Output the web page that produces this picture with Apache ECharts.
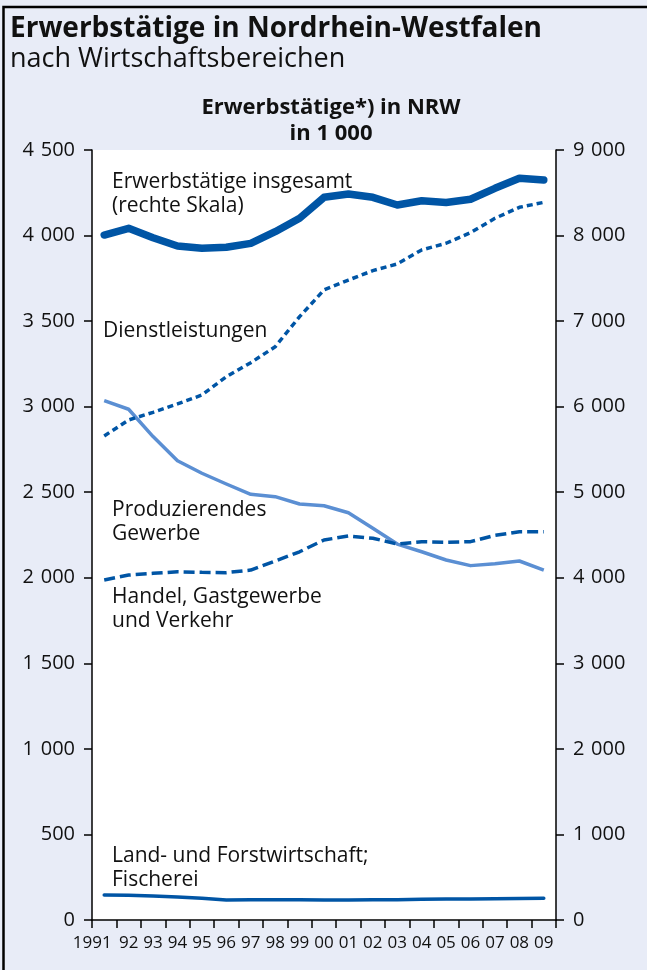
<!DOCTYPE html>
<html><head><meta charset="utf-8">
<script src="https://cdn.jsdelivr.net/npm/echarts@6/dist/echarts.min.js"></script>
<style>html,body{margin:0;padding:0;background:#E8ECF7;}#c{width:647px;height:970px;}</style>
</head><body><div id="c"></div>
<script>
const years = ['1991','92','93','94','95','96','97','98','99','00','01','02','03','04','05','06','07','08','09'];
const insgesamt = [8006,8085,7975,7878,7851,7863,7909,8045,8202,8447,8485,8447,8357,8406,8387,8424,8552,8669,8649];
const dienstleistungen = [2829,2922,2967,3016,3068,3175,3257,3350,3526,3682,3740,3795,3834,3916,3955,4017,4101,4165,4194];
const produzierendes = [3035,2985,2825,2684,2611,2548,2488,2474,2431,2421,2380,2289,2197,2152,2104,2071,2082,2098,2045];
const handel = [1987,2016,2026,2035,2032,2030,2045,2098,2152,2221,2244,2231,2197,2211,2208,2211,2248,2269,2269];
const land = [146,144,140,134,127,117,119,119,118,117,117,118,118,121,122,122,124,126,127];

const FONT = '"Open Sans", "Noto Sans", sans-serif';
const DARK = '#0055A5';
const LIGHT = '#5B8FD3';
const fmt = v => String(v).replace(/\B(?=(\d{3})+(?!\d))/g, '\u2004');

const chart = echarts.init(document.getElementById('c'));
const txt = (x, y, t, size, weight, lh) => ({
  type: 'text', left: x, top: y,
  style: { text: t, font: (weight||'normal') + ' ' + size + 'px ' + FONT, fill: '#111', lineHeight: lh || Math.round(size*1.15) }
});
chart.setOption({
  backgroundColor: '#E8ECF7',
  animation: false,
  grid: { left: 92, right: 91, top: 150, bottom: 50, show: true, backgroundColor: '#fff', borderWidth: 0 },
  graphic: [
    { type: 'polyline', shape: { points: [[3.5, 975], [3.5, 7], [650, 7]] }, style: { fill: null, stroke: '#000', lineWidth: 2.5 }, silent: true },
    txt(10, 12, 'Erwerbstätige in Nordrhein-Westfalen', 28, 'bold', 34),
    txt(10, 43, 'nach Wirtschaftsbereichen', 27, 'normal', 32),
    { type: 'text', x: 331, top: 95, style: { text: 'Erwerbstätige*) in NRW\nin 1 000', font: 'bold 22px ' + FONT, fill: '#111', align: 'center', textAlign: 'center', lineHeight: 26 } },
    txt(112, 170, 'Erwerbstätige insgesamt\n(rechte Skala)', 21, 'normal', 24),
    txt(103, 319, 'Dienstleistungen', 21, 'normal', 24),
    txt(112, 498, 'Produzierendes\nGewerbe', 21, 'normal', 24),
    txt(112, 585, 'Handel, Gastgewerbe\nund Verkehr', 21, 'normal', 24),
    txt(112, 844, 'Land- und Forstwirtschaft;\nFischerei', 21, 'normal', 24)
  ],
  xAxis: {
    type: 'category', data: years, boundaryGap: true,
    axisLine: { lineStyle: { color: '#000', width: 1.5 } },
    axisTick: { show: true, length: 8, lineStyle: { color: '#000', width: 1.5 } },
    axisLabel: { color: '#111', fontSize: 17, fontFamily: FONT, margin: 15, interval: 0,
      formatter: (v, i) => i === 0 ? '{first|' + v + '}' : v,
      rich: { first: { fontSize: 17, fontFamily: FONT, color: '#111', padding: [0, 24, 0, 0] } } }
  },
  yAxis: [
    { type: 'value', min: 0, max: 4500, interval: 500, position: 'left',
      axisLine: { show: true, lineStyle: { color: '#000', width: 1.5 } },
      axisTick: { show: true, length: 8, lineStyle: { color: '#000', width: 1.5 } },
      splitLine: { show: false },
      axisLabel: { color: '#111', fontSize: 20, fontFamily: FONT, margin: 17, formatter: fmt } },
    { type: 'value', min: 0, max: 9000, interval: 1000, position: 'right',
      axisLine: { show: true, lineStyle: { color: '#000', width: 1.5 } },
      axisTick: { show: true, length: 8, lineStyle: { color: '#000', width: 1.5 } },
      splitLine: { show: false },
      axisLabel: { color: '#111', fontSize: 20, fontFamily: FONT, margin: 17, formatter: fmt } }
  ],
  series: [
    { name: 'Produzierendes Gewerbe', type: 'line', data: produzierendes, yAxisIndex: 0, symbol: 'none',
      lineStyle: { color: LIGHT, width: 3.5, join: 'round' } },
    { name: 'Handel, Gastgewerbe und Verkehr', type: 'line', data: handel, yAxisIndex: 0, symbol: 'none',
      lineStyle: { color: DARK, width: 3.5, type: [11, 5] } },
    { name: 'Dienstleistungen', type: 'line', data: dienstleistungen, yAxisIndex: 0, symbol: 'none',
      lineStyle: { color: DARK, width: 3.5, type: [6, 4] } },
    { name: 'Land- und Forstwirtschaft; Fischerei', type: 'line', data: land, yAxisIndex: 0, symbol: 'none',
      lineStyle: { color: DARK, width: 3.5, cap: 'round', join: 'round' } },
    { name: 'Erwerbstätige insgesamt', type: 'line', data: insgesamt, yAxisIndex: 1, symbol: 'none',
      lineStyle: { color: DARK, width: 7.5, cap: 'round', join: 'round' } }
  ]
});
</script></body></html>
